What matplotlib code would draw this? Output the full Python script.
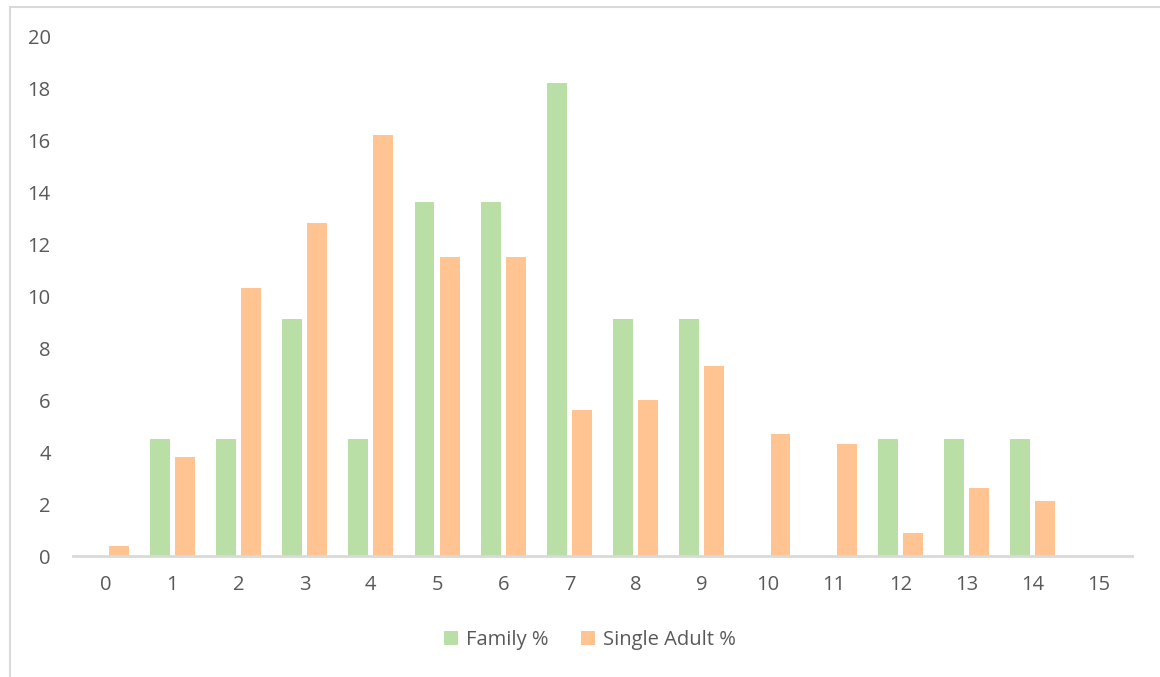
import matplotlib.pyplot as plt
import numpy as np
from matplotlib.patches import Rectangle

plt.rcParams['font.family'] = ['Open Sans', 'DejaVu Sans']

categories = list(range(16))
family_pct = [0, 4.5, 4.5, 9.1, 4.5, 13.6, 13.6, 18.2, 9.1, 9.1, 0, 0, 4.5, 4.5, 4.5, 0]
single_pct = [0.4, 3.8, 10.3, 12.8, 16.2, 11.5, 11.5, 5.6, 6.0, 7.3, 4.7, 4.3, 0.9, 2.6, 2.1, 0]

green = '#B9DFA6'
orange = '#FFC491'
text_col = '#595959'
grid_col = '#D9D9D9'

fig = plt.figure(figsize=(11.6, 6.77), dpi=100)
ax = fig.add_axes([73 / 1160, 1 - 556 / 677, (1132 - 73) / 1160, (556 - 36) / 677])

# chart frame (left and top edges visible)
fig.patches.append(Rectangle((10 / 1160, -0.1), 1.2, 1 - 7 / 677 + 0.1,
                             transform=fig.transFigure, fill=False,
                             edgecolor=grid_col, linewidth=1.5))

x = np.arange(len(categories))
w = 0.30
ax.bar(x - 0.19, family_pct, w, color=green, label='Family %')
ax.bar(x + 0.19, single_pct, w, color=orange, label='Single Adult %')

ax.set_xlim(-0.5, 15.5)
ax.set_ylim(0, 20)
ax.set_yticks(range(0, 21, 2))
ax.set_xticks(x)
ax.set_xticklabels([str(c) for c in categories])

for s in ['top', 'right', 'left']:
    ax.spines[s].set_visible(False)
ax.spines['bottom'].set_color(grid_col)
ax.spines['bottom'].set_linewidth(2)
ax.tick_params(axis='both', length=0, labelsize=14.5, colors=text_col)
ax.tick_params(axis='x', pad=14)
ax.tick_params(axis='y', pad=16)

leg = fig.legend(loc='center', bbox_to_anchor=(590 / 1160, 1 - 640 / 677), ncol=2,
                 frameon=False, fontsize=14.5, handlelength=0.7, handleheight=0.7,
                 columnspacing=1.6, handletextpad=0.4)
for t in leg.get_texts():
    t.set_color(text_col)

fig.savefig('out.png', dpi=100)
